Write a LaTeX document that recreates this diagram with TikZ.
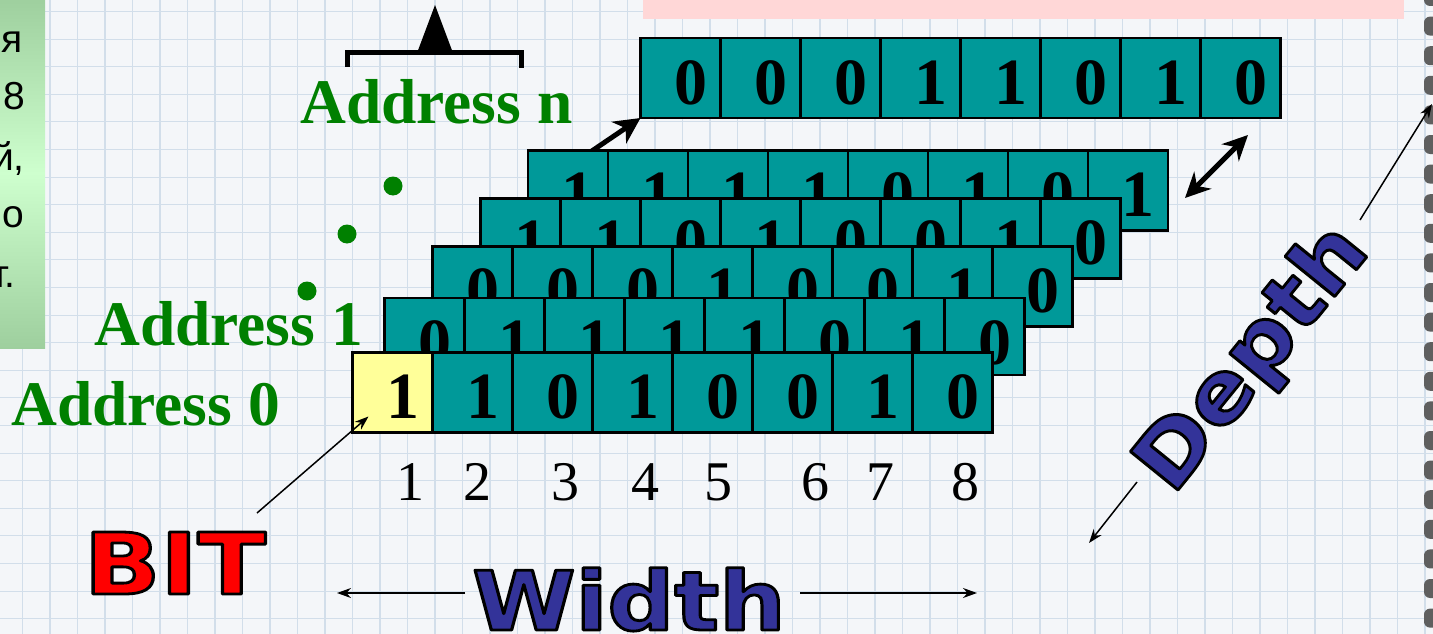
\documentclass[tikz,border=0pt]{standalone}
\usepackage{fontspec}
\setmainfont{Liberation Serif}
\newfontfamily\sansf{Liberation Sans}
\newfontfamily\heavyf{DejaVu Sans}
\usetikzlibrary{arrows.meta,calc}
\definecolor{tealc}{RGB}{0,153,153}
\definecolor{yellowc}{RGB}{255,255,153}
\definecolor{addrgreen}{RGB}{0,128,0}
\definecolor{wblue}{RGB}{51,51,153}
\definecolor{wred}{RGB}{255,0,0}
\definecolor{gridc}{RGB}{210,222,234}
\definecolor{paperc}{RGB}{244,246,249}
\definecolor{pinkc}{RGB}{255,215,215}
\definecolor{ringc}{RGB}{95,95,95}
\definecolor{greenA}{RGB}{158,207,158}
\definecolor{greenB}{RGB}{206,255,206}
\newcommand\outlined[2]{{\color{#1}\special{pdf:literal direct 2 Tr 2.8 w 1 j 0 0 0 RG}#2\special{pdf:literal direct 0 Tr}}}
\newcommand\bitrow[6]{%
  \foreach \b [count=\i from 0] in {#5}{%
    \ifnum\i=0 \def\cf{#6}\else\def\cf{tealc}\fi
    \node[cellbox, fill=\cf, minimum height=#4pt] (#1c\i) at ({#2+80*\i},#3) {};
    \node[bitdigit] (#1d\i) at ($(#1c\i.north)+(10,66)$) {\b};
  }%
}
\tikzset{
  cellbox/.style={draw=black, line width=2.5pt, minimum width=80pt, inner sep=0pt, outer sep=0pt, anchor=north west},
  bitdigit/.style={font=\fontsize{66}{66}\selectfont\bfseries, anchor=base, inner sep=0pt},
  addrlabel/.style={font=\fontsize{63.5}{63.5}\selectfont\bfseries, text=addrgreen, anchor=base west, inner sep=0pt},
  colnum/.style={font=\fontsize{56}{56}\selectfont, anchor=base, inner sep=0pt},
  sidetext/.style={font=\sansf\fontsize{39}{39}\selectfont, anchor=base east, inner sep=0pt},
  bigword/.style={anchor=base, inner sep=0pt},
  gdot/.style={circle, fill=addrgreen, minimum size=19pt, inner sep=0pt},
  thinarrow/.style={line width=1.5pt, -{Stealth[length=14pt,width=10pt]}},
  fatarrow/.style={line width=5pt, -{Stealth[length=26pt,width=26pt,inset=8pt]}},
  fatdouble/.style={line width=5pt, {Stealth[length=25pt,width=24pt,inset=8pt]}-{Stealth[length=25pt,width=24pt,inset=8pt]}}
}
\begin{document}
\begin{tikzpicture}[x=1pt,y=-1pt]
\useasboundingbox (0,0) rectangle (1433,634);
\clip (0,0) rectangle (1433,634);
% paper
\fill[paperc] (0,0) rectangle (1433,634);
\foreach \k in {0,...,52} \draw[gridc, line width=1.1pt] ({22.5+27.5*\k},0) -- ({22.5+27.5*\k},634);
\foreach \k in {0,...,23} \draw[gridc, line width=1.1pt] (0,{11.5+27.6*\k}) -- (1433,{11.5+27.6*\k});
% spiral binding
\foreach \k in {0,...,22} \fill[ringc, rounded corners=6pt] (1424,{-13+29.6*\k}) rectangle (1450,{6+29.6*\k});
% left green box
\shade[top color=greenA, bottom color=greenA, middle color=greenB] (-2,-2) rectangle (45,348);
\node[sidetext] (s1) at (23,53) {я};
\node[sidetext] (s2) at (25,110) {8};
\node[sidetext] (s3) at (25,170) {й,};
\node[sidetext] (s4) at (24,227) {о};
\node[sidetext] (s5) at (16,287) {т.};
% pink title strip
\fill[pinkc] (643,-2) rectangle (1404,19);
% bracket with pointer
\draw[line width=5pt] (347,67) -- (347,53) -- (521,53) -- (521,68);
\fill (435,5) -- (453,53) -- (417,53) -- cycle;
% address labels and dots
\node[addrlabel] (an) at (300,123) {Address n};
\node[addrlabel] (a1) at (94,345) {Address 1};
\node[addrlabel] (a0) at (11,425) {Address 0};
\node[gdot] (g1) at (393,186) {};
\node[gdot] (g2) at (347,234) {};
\node[gdot] (g3) at (307,291) {};
% rows, back to front
\bitrow{rn}{640.5}{38}{80}{0,0,0,1,1,0,1,0}{tealc}
\coordinate (ntail) at (583,157);
\draw[fatarrow] (ntail) -- (rnc0.south west);
\bitrow{r4}{528}{150.5}{80}{1,1,1,1,0,1,0,1}{tealc}
\bitrow{r3}{480.5}{198.5}{80}{1,1,0,1,0,0,1,0}{tealc}
\bitrow{r2}{432.5}{246.5}{80}{0,0,0,1,0,0,1,0}{tealc}
\bitrow{r1}{384.5}{298}{77}{0,1,1,1,1,0,1,0}{tealc}
\bitrow{r0}{352.5}{352.5}{80}{1,1,0,1,0,0,1,0}{yellowc}
% double arrow between rows
\coordinate (dblA) at (1185,198);
\coordinate (dblB) at (1248,135);
\draw[fatdouble] (dblA) -- (dblB);
% column numbers
\foreach \n/\x in {1/410,2/477,3/565,4/645,5/718,6/815,7/880,8/965}
  \node[colnum] (col\n) at (\x,500) {\n};
% big words
\node[bigword, font=\heavyf\bfseries\fontsize{85}{85}\selectfont] (bit) at (175,594) {\scalebox{1.18}[1]{\outlined{wred}{BIT}}};
\node[bigword, font=\heavyf\bfseries\fontsize{82}{82}\selectfont] (width) at (629,630) {\scalebox{1.14}[1]{\outlined{wblue}{Width}}};
\node[bigword, font=\heavyf\bfseries\fontsize{84}{84}\selectfont, rotate=51] (depth) at (1272,374) {\scalebox{1.1}[1]{\outlined{wblue}{Depth}}};
% thin arrows
\coordinate (bittail) at (257,513);
\draw[thinarrow] (bittail) -- ($(r0c0.south west)+(16,-16)$);
\coordinate (wl1) at (465,593); \coordinate (wl2) at (337,593);
\coordinate (wr1) at (800,593); \coordinate (wr2) at (977,593);
\draw[thinarrow] (wl1) -- (wl2);
\draw[thinarrow] (wr1) -- (wr2);
\coordinate (dl1) at (1137,482); \coordinate (dl2) at (1089,543);
\coordinate (du1) at (1360,220); \coordinate (du2) at (1432,104);
\draw[thinarrow] (dl1) -- (dl2);
\draw[thinarrow] (du1) -- (du2);
\end{tikzpicture}
\end{document}
